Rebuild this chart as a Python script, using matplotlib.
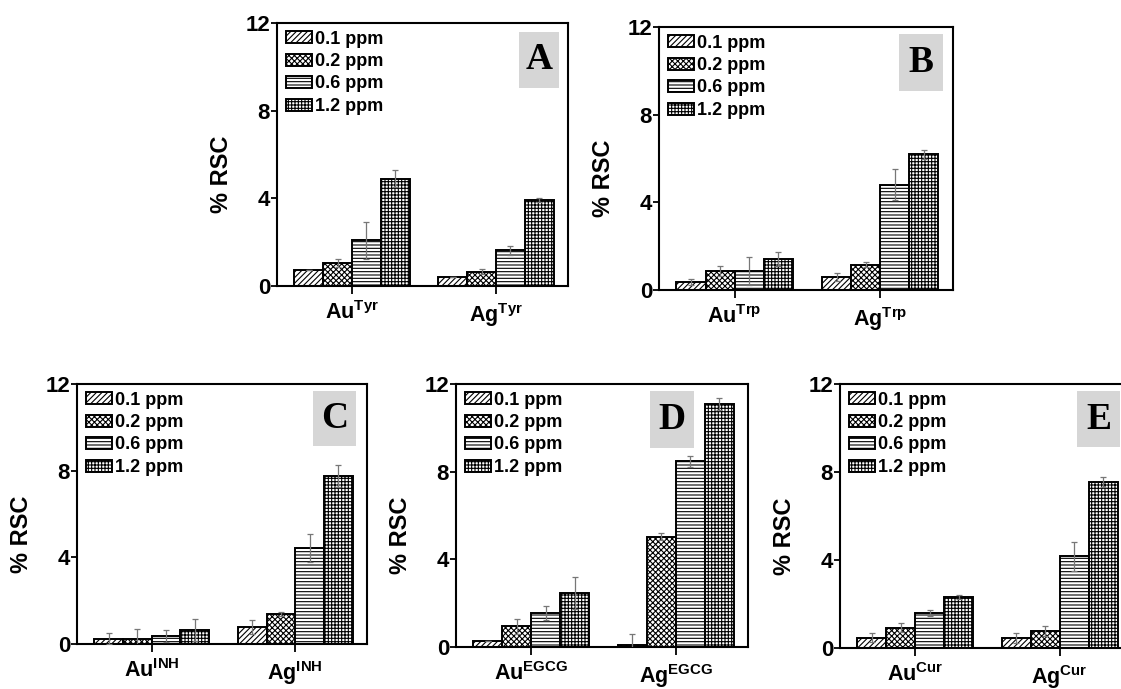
import matplotlib
matplotlib.use("Agg")
import matplotlib.pyplot as plt
import matplotlib.patches as mpatches
import numpy as np

plt.rcParams['font.family'] = ['Liberation Sans', 'DejaVu Sans']
plt.rcParams['font.weight'] = 'bold'
plt.rcParams['mathtext.fontset'] = 'custom'
plt.rcParams['mathtext.rm'] = 'Liberation Sans:bold'
plt.rcParams['mathtext.it'] = 'Liberation Sans:bold'
plt.rcParams['mathtext.bf'] = 'Liberation Sans:bold'
plt.rcParams['hatch.linewidth'] = 0.8

# ---------------- data ----------------
concentrations = ['0.1 ppm', '0.2 ppm', '0.6 ppm', '1.2 ppm']
metals = ['Au', 'Ag']
y_ticks = [0, 4, 8, 12]

# Panel A: Tyr
tyr_au = [0.73, 1.04, 2.08, 4.90]
tyr_au_err = [0.0, 0.18, 0.84, 0.38]
tyr_ag = [0.43, 0.66, 1.63, 3.92]
tyr_ag_err = [0.0, 0.10, 0.20, 0.10]

# Panel B: Trp
trp_au = [0.35, 0.87, 0.87, 1.40]
trp_au_err = [0.14, 0.23, 0.65, 0.32]
trp_ag = [0.59, 1.16, 4.80, 6.20]
trp_ag_err = [0.20, 0.10, 0.71, 0.21]

# Panel C: INH
inh_au = [0.25, 0.25, 0.37, 0.65]
inh_au_err = [0.26, 0.44, 0.29, 0.52]
inh_ag = [0.78, 1.38, 4.43, 7.75]
inh_ag_err = [0.33, 0.10, 0.65, 0.51]

# Panel D: EGCG
egcg_au = [0.27, 0.94, 1.55, 2.45]
egcg_au_err = [0.0, 0.34, 0.32, 0.73]
egcg_ag = [0.08, 5.04, 8.48, 11.09]
egcg_ag_err = [0.50, 0.18, 0.25, 0.27]

# Panel E: Cur
cur_au = [0.47, 0.92, 1.59, 2.33]
cur_au_err = [0.21, 0.21, 0.12, 0.09]
cur_ag = [0.45, 0.77, 4.16, 7.55]
cur_ag_err = [0.23, 0.21, 0.64, 0.21]

panels = [
    ('A', 'Tyr', tyr_au, tyr_au_err, tyr_ag, tyr_ag_err),
    ('B', 'Trp', trp_au, trp_au_err, trp_ag, trp_ag_err),
    ('C', 'INH', inh_au, inh_au_err, inh_ag, inh_ag_err),
    ('D', 'EGCG', egcg_au, egcg_au_err, egcg_ag, egcg_ag_err),
    ('E', 'Cur', cur_au, cur_au_err, cur_ag, cur_ag_err),
]

# ---------------- layout (pixels: left, right, top, bottom) ----------------
W, H = 1121, 689
boxes_px = {
    'A': (277, 568, 23, 286),
    'B': (659, 953, 27, 290),
    'C': (77, 367, 384, 644),
    'D': (456, 748, 384, 647),
    'E': (840, 1132, 384, 648),
}
# letter box in axes fraction: (x0, x1, y0, y1)
letter_box = {
    'A': (0.832, 0.969, 0.753, 0.966),
    'B': (0.816, 0.966, 0.757, 0.973),
    'C': (0.814, 0.962, 0.762, 0.973),
    'D': (0.664, 0.815, 0.757, 0.973),
    'E': (0.812, 0.960, 0.760, 0.973),
}
hatches = ['//////', 'xxxxxx', '-----', '+++++']

fig = plt.figure(figsize=(W / 100, H / 100), dpi=100)

bar_w = 0.2
x = np.arange(len(metals))

for letter, lig, au, au_e, ag, ag_e in panels:
    l, r, t, b = boxes_px[letter]
    aw, ah = r - l, b - t
    ax = fig.add_axes([l / W, 1 - b / H, aw / W, ah / H])
    for i, conc in enumerate(concentrations):
        vals = [au[i], ag[i]]
        errs = [au_e[i], ag_e[i]]
        pos = x + (i - 1.5) * bar_w
        ax.bar(pos, vals, width=bar_w, color='white', edgecolor='black',
               linewidth=1.4, hatch=hatches[i], label=conc, zorder=2)
        ax.errorbar(pos, vals, yerr=errs, fmt='none', ecolor='#777777',
                    elinewidth=0.9, capsize=2.5, capthick=0.9, zorder=3)
    ax.set_xlim(-0.52, 1.50)
    ax.set_ylim(0, 12)
    ax.set_yticks(y_ticks)
    ax.set_yticklabels([str(v) for v in y_ticks], fontsize=16, fontweight='bold')
    ax.set_xticks(x)
    ax.set_xticklabels([r'$\mathrm{%s}^{\mathrm{%s}}$' % (m, lig) for m in metals],
                       fontsize=15.5)
    ax.tick_params(axis='y', direction='out', length=4, width=1.3, pad=1)
    ax.tick_params(axis='x', direction='out', length=6, width=1.3, pad=5)
    for s in ax.spines.values():
        s.set_linewidth(1.5)
    ax.set_ylabel('% RSC', fontsize=17, fontweight='bold')
    ax.yaxis.set_label_coords(-44 / aw, 0.5 - 20 / ah)

    ax.legend(loc='upper left', bbox_to_anchor=(-4 / aw, 1 + 5 / ah), frameon=False,
              handlelength=1.45, handleheight=0.65,
              handletextpad=0.15, labelspacing=0.3, borderaxespad=0.3,
              prop={'weight': 'bold', 'size': 13})

    x0, x1, y0, y1 = letter_box[letter]
    ax.add_patch(mpatches.Rectangle((x0, y0), x1 - x0, y1 - y0,
                                    transform=ax.transAxes, facecolor='#d6d6d6',
                                    edgecolor='none', zorder=1))
    ax.text((x0 + x1) / 2, (y0 + y1) / 2, letter, transform=ax.transAxes,
            ha='center', va='center', fontsize=27, fontweight='bold',
            family=['Liberation Serif', 'DejaVu Serif'], zorder=4)

fig.savefig('out.png', dpi=100)
